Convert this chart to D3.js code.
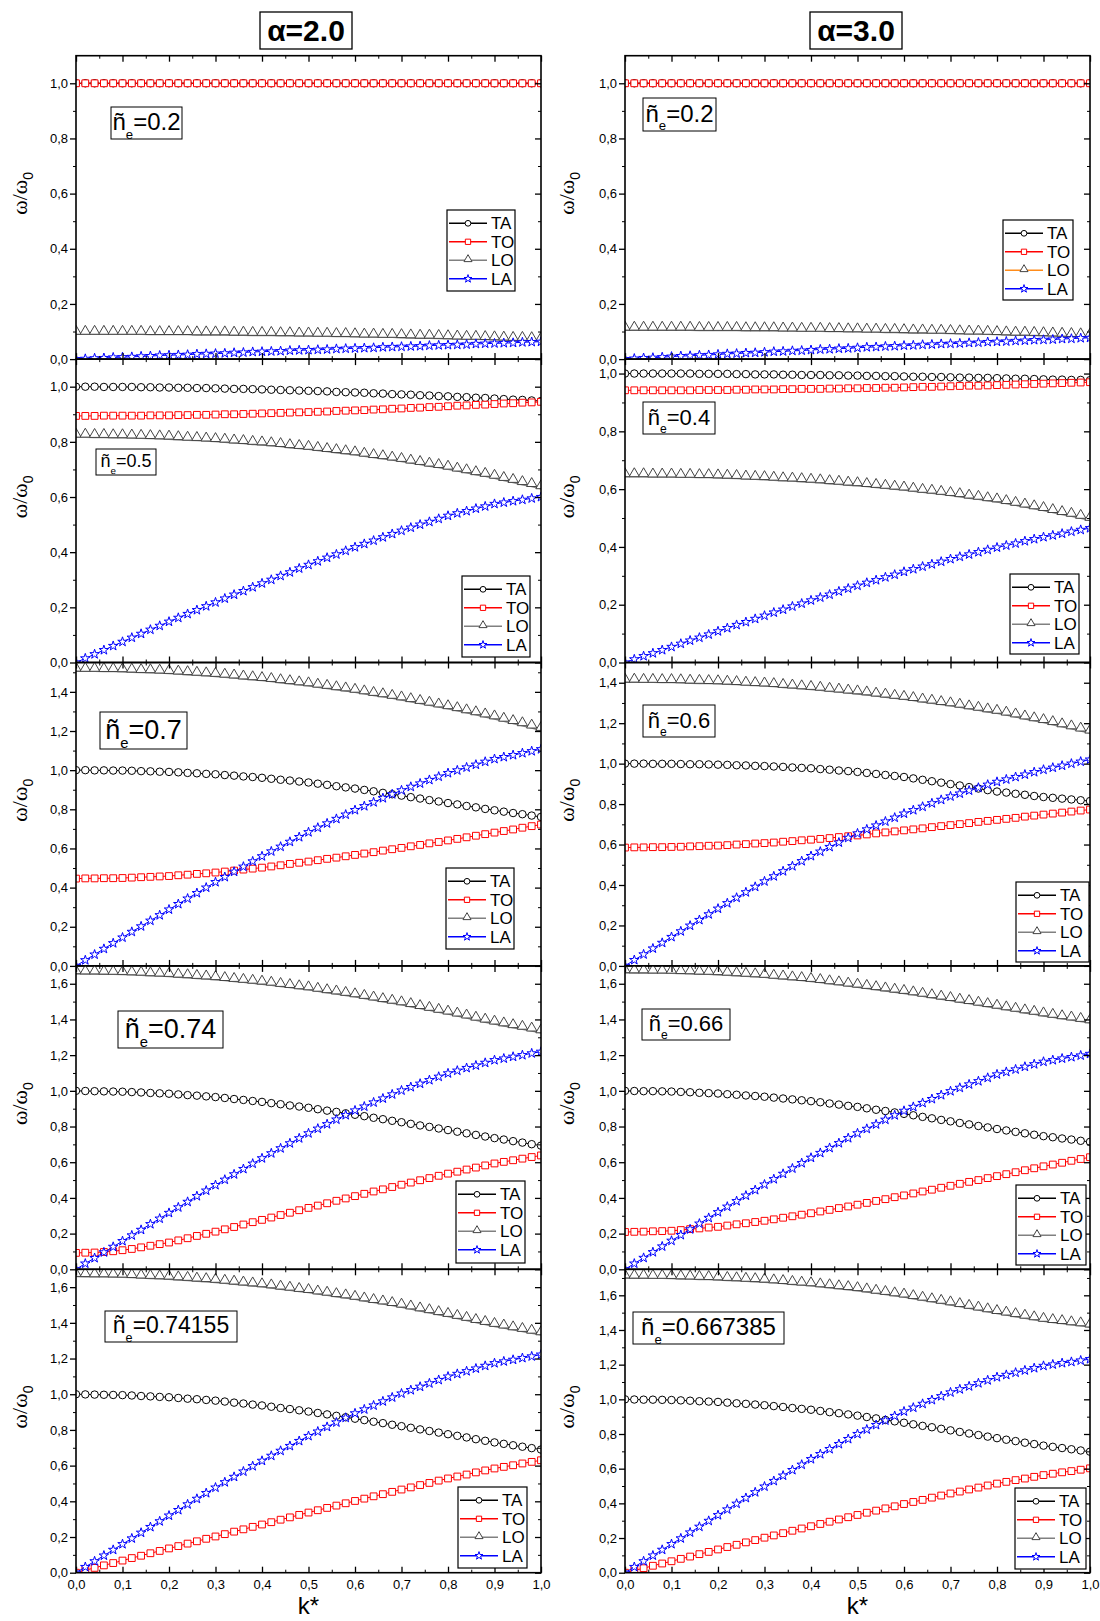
<!DOCTYPE html>
<html>
<head>
<meta charset="utf-8">
<script src="https://d3js.org/d3.v7.min.js"></script>
<style>
body { margin: 0; background: #fff; }
text { font-family: "Liberation Sans", Arial, sans-serif; fill: #000; }
</style>
</head>
<body>
<svg id="fig"></svg>
<script>
// k* sample points (same for every curve)
var kValues = [0,0.02,0.04,0.06,0.08,0.1,0.12,0.14,0.16,0.18,0.2,0.22,0.24,0.26,0.28,0.3,0.32,0.34,0.36,0.38,0.4,0.42,0.44,0.46,0.48,0.5,0.52,0.54,0.56,0.58,0.6,0.62,0.64,0.66,0.68,0.7,0.72,0.74,0.76,0.78,0.8,0.82,0.84,0.86,0.88,0.9,0.92,0.94,0.96,0.98,1];

var xTicks = [0,0.1,0.2,0.3,0.4,0.5,0.6,0.7,0.8,0.9,1.0];
var yTicks10 = [0,0.2,0.4,0.6,0.8,1.0];
var yTicks14 = [0,0.2,0.4,0.6,0.8,1.0,1.2,1.4];
var yTicks16 = [0,0.2,0.4,0.6,0.8,1.0,1.2,1.4,1.6];

// ---- alpha = 2.0 ----
// ne = 0.2
var ta_a2_r1 = [1,1,1,1,1,1,1,1,1,1,1,1,1,1,1,1,1,1,1,1,1,1,1,1,1,1,1,1,1,1,1,1,1,1,1,1,1,1,1,1,1,1,1,1,1,1,1,1,1,1,1];
var to_a2_r1 = [1,1,1,1,1,1,1,1,1,1,1,1,1,1,1,1,1,1,1,1,1,1,1,1,1,1,1,1,1,1,1,1,1,1,1,1,1,1,1,1,1,1,1,1,1,1,1,1,1,1,1];
var lo_a2_r1 = [0.090,0.090,0.090,0.090,0.090, 0.090,0.090,0.090,0.089,0.089, 0.089,0.089,0.089,0.088,0.088, 0.088,0.088,0.087,0.087,0.086, 0.086,0.086,0.085,0.085,0.084, 0.084,0.083,0.083,0.082,0.082, 0.081,0.080,0.080,0.079,0.079, 0.078,0.077,0.076,0.076,0.075, 0.074,0.073,0.072,0.072,0.071, 0.070,0.069,0.068,0.068,0.067, 0.066];
var la_a2_r1 = [0.000,0.001,0.003,0.004,0.006, 0.007,0.008,0.010,0.011,0.013, 0.014,0.015,0.016,0.018,0.019, 0.020,0.021,0.023,0.024,0.026, 0.027,0.028,0.029,0.031,0.032, 0.033,0.034,0.035,0.037,0.038, 0.039,0.040,0.041,0.043,0.044, 0.045,0.046,0.047,0.049,0.050, 0.051,0.052,0.053,0.055,0.056, 0.057,0.058,0.059,0.061,0.062, 0.063];
// ne = 0.5
var ta_a2_r2 = [1.000,1.000,1.000,0.999,0.999, 0.999,0.999,0.998,0.998,0.997, 0.997,0.996,0.996,0.995,0.995, 0.994,0.993,0.992,0.992,0.991, 0.990,0.989,0.988,0.987,0.986, 0.985,0.984,0.983,0.981,0.980, 0.979,0.978,0.976,0.975,0.973, 0.972,0.971,0.969,0.968,0.966, 0.965,0.963,0.962,0.960,0.959, 0.957,0.955,0.953,0.952,0.950, 0.948];
var to_a2_r2 = [0.894,0.894,0.894,0.895,0.895, 0.895,0.895,0.895,0.896,0.896, 0.896,0.897,0.897,0.898,0.898, 0.899,0.900,0.900,0.901,0.902, 0.903,0.904,0.905,0.906,0.907, 0.908,0.909,0.910,0.912,0.913, 0.914,0.915,0.917,0.918,0.920, 0.921,0.923,0.924,0.926,0.927, 0.929,0.931,0.932,0.934,0.935, 0.937,0.939,0.940,0.942,0.943, 0.945];
var lo_a2_r2 = [0.817,0.817,0.816,0.816,0.815, 0.815,0.814,0.813,0.812,0.811, 0.810,0.808,0.806,0.805,0.803, 0.801,0.799,0.796,0.794,0.791, 0.789,0.786,0.783,0.779,0.776, 0.773,0.769,0.765,0.761,0.757, 0.753,0.748,0.743,0.739,0.734, 0.729,0.723,0.718,0.712,0.707, 0.701,0.694,0.688,0.681,0.675, 0.668,0.660,0.653,0.645,0.638, 0.630];
var la_a2_r2 = [0.000,0.015,0.030,0.045,0.060, 0.075,0.090,0.104,0.119,0.133, 0.148,0.162,0.176,0.190,0.204, 0.218,0.232,0.246,0.259,0.273, 0.287,0.300,0.314,0.327,0.341, 0.354,0.367,0.380,0.392,0.405, 0.418,0.430,0.442,0.454,0.466, 0.478,0.489,0.500,0.510,0.521, 0.532,0.541,0.549,0.558,0.566, 0.575,0.580,0.585,0.590,0.595, 0.600];
// ne = 0.7
var ta_a2_r3 = [1.000,1.000,0.999,0.999,0.998, 0.998,0.997,0.995,0.994,0.992, 0.991,0.989,0.986,0.984,0.981, 0.979,0.975,0.972,0.968,0.965, 0.961,0.956,0.951,0.947,0.942, 0.937,0.931,0.925,0.918,0.912, 0.906,0.899,0.892,0.884,0.877, 0.870,0.862,0.855,0.847,0.840, 0.832,0.825,0.817,0.810,0.802, 0.795,0.788,0.781,0.775,0.768, 0.761];
var to_a2_r3 = [0.446,0.447,0.447,0.448,0.448, 0.449,0.451,0.453,0.455,0.457, 0.459,0.463,0.466,0.470,0.473, 0.477,0.482,0.487,0.492,0.497, 0.502,0.508,0.514,0.521,0.527, 0.533,0.540,0.547,0.553,0.560, 0.567,0.574,0.581,0.589,0.596, 0.603,0.611,0.618,0.626,0.633, 0.641,0.649,0.657,0.665,0.673, 0.681,0.689,0.697,0.706,0.714, 0.722];
var lo_a2_r3 = [1.506,1.505,1.505,1.504,1.504, 1.503,1.501,1.499,1.498,1.496, 1.494,1.491,1.488,1.485,1.482, 1.479,1.475,1.471,1.466,1.462, 1.458,1.453,1.447,1.442,1.436, 1.431,1.424,1.418,1.411,1.405, 1.398,1.390,1.382,1.375,1.367, 1.359,1.350,1.341,1.332,1.323, 1.314,1.304,1.293,1.283,1.272, 1.262,1.250,1.238,1.227,1.215, 1.203];
var la_a2_r3 = [0.000,0.029,0.058,0.087,0.116, 0.145,0.174,0.202,0.231,0.259, 0.288,0.316,0.344,0.372,0.400, 0.428,0.454,0.481,0.507,0.534, 0.560,0.585,0.609,0.634,0.658, 0.683,0.706,0.728,0.751,0.773, 0.796,0.816,0.836,0.857,0.877, 0.897,0.915,0.932,0.950,0.967, 0.985,0.999,1.014,1.028,1.043, 1.057,1.067,1.077,1.087,1.097, 1.107];
// ne = 0.74
var ta_a2_r4 = [1.000,0.999,0.998,0.997,0.996, 0.995,0.993,0.991,0.988,0.986, 0.984,0.980,0.976,0.973,0.969, 0.965,0.960,0.954,0.949,0.943, 0.938,0.931,0.925,0.918,0.912, 0.905,0.897,0.889,0.882,0.874, 0.866,0.858,0.849,0.841,0.832, 0.824,0.815,0.806,0.798,0.789, 0.780,0.771,0.762,0.753,0.744, 0.735,0.727,0.718,0.710,0.701, 0.693];
var to_a2_r4 = [0.092,0.093,0.094,0.097,0.101, 0.107,0.114,0.123,0.132,0.141, 0.150,0.162,0.174,0.187,0.199, 0.211,0.224,0.237,0.251,0.264, 0.277,0.290,0.304,0.317,0.331, 0.344,0.357,0.370,0.384,0.397, 0.410,0.423,0.436,0.448,0.461, 0.474,0.486,0.499,0.511,0.524, 0.536,0.547,0.559,0.570,0.582, 0.593,0.602,0.611,0.620,0.629, 0.638];
var lo_a2_r4 = [1.656,1.655,1.655,1.654,1.653, 1.652,1.650,1.648,1.645,1.643, 1.641,1.637,1.634,1.630,1.627, 1.623,1.618,1.613,1.608,1.603, 1.598,1.592,1.585,1.579,1.572, 1.566,1.558,1.550,1.543,1.535, 1.527,1.518,1.509,1.500,1.491, 1.482,1.472,1.461,1.451,1.440, 1.430,1.419,1.408,1.396,1.385, 1.374,1.364,1.354,1.345,1.335, 1.325];
var la_a2_r4 = [0.000,0.032,0.063,0.095,0.126, 0.158,0.190,0.221,0.253,0.284, 0.316,0.347,0.378,0.410,0.441, 0.472,0.502,0.532,0.562,0.592, 0.622,0.650,0.678,0.706,0.734, 0.762,0.788,0.813,0.839,0.864, 0.890,0.912,0.935,0.957,0.980, 1.002,1.021,1.040,1.060,1.079, 1.098,1.113,1.128,1.142,1.157, 1.172,1.181,1.191,1.200,1.210, 1.219];
// ne = 0.74155
var ta_a2_r5 = [1.000,0.999,0.998,0.997,0.996, 0.995,0.993,0.990,0.988,0.985, 0.983,0.979,0.975,0.972,0.968, 0.964,0.959,0.953,0.948,0.942, 0.937,0.930,0.923,0.917,0.910, 0.903,0.895,0.887,0.879,0.871, 0.863,0.855,0.846,0.838,0.829, 0.821,0.812,0.803,0.794,0.785, 0.776,0.767,0.758,0.748,0.739, 0.730,0.722,0.714,0.706,0.698, 0.690];
var to_a2_r5 = [0.000,0.014,0.027,0.041,0.054, 0.068,0.082,0.095,0.109,0.122, 0.136,0.149,0.163,0.176,0.190, 0.203,0.216,0.230,0.243,0.257, 0.270,0.283,0.297,0.310,0.324, 0.337,0.350,0.363,0.376,0.389, 0.402,0.415,0.428,0.440,0.453, 0.466,0.478,0.491,0.503,0.516, 0.528,0.539,0.550,0.562,0.573, 0.584,0.593,0.602,0.612,0.621, 0.630];
var lo_a2_r5 = [1.660,1.659,1.658,1.658,1.657, 1.656,1.654,1.651,1.649,1.647, 1.645,1.641,1.638,1.634,1.631, 1.627,1.622,1.617,1.612,1.607, 1.602,1.596,1.589,1.583,1.576, 1.570,1.562,1.555,1.547,1.540, 1.532,1.523,1.514,1.506,1.497, 1.488,1.478,1.467,1.457,1.446, 1.436,1.425,1.414,1.402,1.391, 1.380,1.371,1.361,1.352,1.342, 1.333];
var la_a2_r5 = [0.000,0.032,0.064,0.096,0.128, 0.160,0.192,0.224,0.256,0.288, 0.320,0.351,0.383,0.414,0.446, 0.477,0.507,0.537,0.567,0.597, 0.627,0.655,0.683,0.710,0.738, 0.766,0.791,0.817,0.842,0.868, 0.893,0.915,0.937,0.960,0.982, 1.004,1.023,1.042,1.061,1.080, 1.099,1.114,1.129,1.144,1.159, 1.174,1.184,1.193,1.203,1.212, 1.222];

// ---- alpha = 3.0 ----
// ne = 0.2
var ta_a3_r1 = [1,1,1,1,1,1,1,1,1,1,1,1,1,1,1,1,1,1,1,1,1,1,1,1,1,1,1,1,1,1,1,1,1,1,1,1,1,1,1,1,1,1,1,1,1,1,1,1,1,1,1];
var to_a3_r1 = [1,1,1,1,1,1,1,1,1,1,1,1,1,1,1,1,1,1,1,1,1,1,1,1,1,1,1,1,1,1,1,1,1,1,1,1,1,1,1,1,1,1,1,1,1,1,1,1,1,1,1];
var lo_a3_r1 = [0.105,0.105,0.105,0.105,0.105, 0.105,0.105,0.105,0.104,0.104, 0.104,0.104,0.104,0.103,0.103, 0.103,0.103,0.102,0.102,0.101, 0.101,0.101,0.100,0.100,0.099, 0.099,0.098,0.098,0.097,0.097, 0.096,0.095,0.095,0.094,0.094, 0.093,0.092,0.091,0.091,0.090, 0.089,0.088,0.087,0.087,0.086, 0.085,0.084,0.083,0.082,0.081, 0.080];
var la_a3_r1 = [0.000,0.002,0.004,0.005,0.007, 0.009,0.011,0.012,0.014,0.015, 0.017,0.019,0.020,0.022,0.023, 0.025,0.027,0.028,0.030,0.031, 0.033,0.035,0.036,0.038,0.039, 0.041,0.043,0.044,0.046,0.047, 0.049,0.050,0.052,0.053,0.055, 0.056,0.057,0.059,0.060,0.062, 0.063,0.064,0.066,0.067,0.069, 0.070,0.071,0.073,0.074,0.076, 0.077];
// ne = 0.4
var ta_a3_r2 = [1.000,1.000,1.000,1.000,1.000, 1.000,1.000,1.000,0.999,0.999, 0.999,0.999,0.998,0.998,0.997, 0.997,0.997,0.996,0.996,0.995, 0.995,0.995,0.994,0.994,0.993, 0.993,0.992,0.992,0.991,0.991, 0.990,0.989,0.989,0.988,0.988, 0.987,0.986,0.986,0.985,0.985, 0.984,0.983,0.982,0.982,0.981, 0.980,0.979,0.979,0.978,0.978, 0.977];
var to_a3_r2 = [0.942,0.942,0.942,0.942,0.942, 0.942,0.942,0.942,0.943,0.943, 0.943,0.943,0.944,0.944,0.945, 0.945,0.945,0.946,0.946,0.947, 0.947,0.947,0.948,0.948,0.949, 0.949,0.950,0.950,0.951,0.951, 0.952,0.953,0.954,0.954,0.955, 0.956,0.957,0.958,0.958,0.959, 0.960,0.961,0.962,0.963,0.964, 0.965,0.966,0.967,0.968,0.969, 0.970];
var lo_a3_r2 = [0.643,0.643,0.643,0.642,0.642, 0.642,0.641,0.641,0.640,0.640, 0.639,0.638,0.637,0.635,0.634, 0.633,0.631,0.629,0.628,0.626, 0.624,0.622,0.619,0.617,0.614, 0.612,0.609,0.606,0.603,0.600, 0.597,0.593,0.589,0.586,0.582, 0.578,0.574,0.569,0.565,0.560, 0.556,0.550,0.544,0.538,0.532, 0.526,0.519,0.512,0.506,0.499, 0.492];
var la_a3_r2 = [0.000,0.011,0.022,0.032,0.043, 0.054,0.065,0.076,0.086,0.097, 0.108,0.119,0.130,0.140,0.151, 0.162,0.173,0.183,0.194,0.204, 0.215,0.225,0.235,0.246,0.256, 0.266,0.276,0.285,0.295,0.304, 0.314,0.323,0.332,0.340,0.349, 0.358,0.366,0.374,0.382,0.390, 0.398,0.405,0.412,0.420,0.427, 0.434,0.440,0.446,0.453,0.459, 0.465];
// ne = 0.6
var ta_a3_r3 = [1.000,1.000,1.000,0.999,0.999, 0.999,0.998,0.997,0.997,0.996, 0.995,0.994,0.992,0.991,0.989, 0.988,0.986,0.984,0.981,0.979, 0.977,0.973,0.970,0.966,0.963, 0.959,0.954,0.949,0.944,0.939, 0.934,0.927,0.920,0.913,0.906, 0.899,0.892,0.884,0.877,0.869, 0.862,0.857,0.851,0.846,0.840, 0.835,0.831,0.827,0.823,0.819, 0.815];
var to_a3_r3 = [0.585,0.586,0.586,0.587,0.587, 0.588,0.589,0.591,0.592,0.594, 0.595,0.597,0.600,0.602,0.605, 0.607,0.610,0.614,0.617,0.621, 0.624,0.628,0.632,0.637,0.641, 0.645,0.650,0.655,0.660,0.665, 0.670,0.675,0.680,0.686,0.691, 0.696,0.701,0.706,0.712,0.717, 0.722,0.727,0.732,0.738,0.743, 0.748,0.753,0.758,0.763,0.768, 0.773];
var lo_a3_r3 = [1.403,1.403,1.402,1.402,1.401, 1.401,1.400,1.398,1.397,1.396, 1.395,1.393,1.391,1.388,1.386, 1.384,1.381,1.377,1.374,1.370, 1.367,1.363,1.358,1.354,1.349, 1.345,1.340,1.334,1.329,1.323, 1.318,1.312,1.305,1.299,1.292, 1.286,1.279,1.271,1.264,1.256, 1.249,1.240,1.231,1.221,1.212, 1.203,1.193,1.182,1.172,1.161, 1.151];
var la_a3_r3 = [0.000,0.029,0.057,0.086,0.114, 0.143,0.171,0.199,0.227,0.255, 0.283,0.310,0.337,0.364,0.391, 0.418,0.443,0.468,0.493,0.518, 0.543,0.565,0.588,0.610,0.633, 0.655,0.675,0.694,0.714,0.733, 0.753,0.770,0.787,0.804,0.821, 0.838,0.852,0.867,0.881,0.896, 0.910,0.922,0.934,0.946,0.958, 0.970,0.980,0.990,1.000,1.010, 1.020];
// ne = 0.66
var ta_a3_r4 = [1.000,0.999,0.998,0.998,0.997, 0.996,0.994,0.992,0.989,0.987, 0.985,0.981,0.978,0.974,0.971, 0.967,0.962,0.957,0.952,0.947, 0.942,0.936,0.929,0.923,0.916, 0.910,0.902,0.894,0.887,0.879, 0.871,0.863,0.854,0.846,0.837, 0.829,0.820,0.812,0.803,0.795, 0.786,0.778,0.770,0.762,0.754, 0.746,0.740,0.733,0.727,0.720, 0.714];
var to_a3_r4 = [0.209,0.210,0.211,0.213,0.214, 0.216,0.220,0.225,0.229,0.234, 0.238,0.245,0.252,0.258,0.265, 0.272,0.280,0.289,0.297,0.306, 0.314,0.324,0.333,0.343,0.352, 0.362,0.372,0.383,0.393,0.404, 0.414,0.425,0.436,0.446,0.457, 0.468,0.479,0.490,0.500,0.511, 0.522,0.533,0.544,0.555,0.566, 0.577,0.587,0.597,0.608,0.618, 0.628];
var lo_a3_r4 = [1.662,1.661,1.661,1.660,1.660, 1.659,1.657,1.656,1.654,1.653, 1.651,1.648,1.645,1.642,1.639, 1.636,1.631,1.627,1.622,1.618, 1.613,1.607,1.600,1.594,1.587, 1.581,1.574,1.567,1.560,1.553, 1.546,1.538,1.530,1.522,1.514, 1.506,1.497,1.489,1.480,1.472, 1.463,1.454,1.446,1.437,1.429, 1.420,1.412,1.404,1.397,1.389, 1.381];
var la_a3_r4 = [0.000,0.032,0.064,0.096,0.128, 0.160,0.192,0.224,0.256,0.288, 0.320,0.351,0.382,0.413,0.444, 0.475,0.505,0.535,0.565,0.595, 0.625,0.652,0.680,0.707,0.735, 0.762,0.787,0.812,0.838,0.863, 0.888,0.910,0.932,0.954,0.976, 0.998,1.017,1.036,1.054,1.073, 1.092,1.106,1.120,1.135,1.149, 1.163,1.172,1.181,1.189,1.198, 1.207];
// ne = 0.667385
var ta_a3_r5 = [1.000,0.999,0.998,0.998,0.997, 0.996,0.994,0.992,0.989,0.987, 0.985,0.981,0.977,0.974,0.970, 0.966,0.961,0.956,0.950,0.945, 0.940,0.933,0.926,0.920,0.913, 0.906,0.898,0.890,0.881,0.873, 0.865,0.856,0.847,0.839,0.830, 0.821,0.812,0.803,0.794,0.785, 0.776,0.767,0.759,0.750,0.742, 0.733,0.726,0.719,0.712,0.705, 0.698];
var to_a3_r5 = [0.000,0.013,0.026,0.040,0.053, 0.066,0.080,0.093,0.107,0.120, 0.134,0.148,0.161,0.175,0.188, 0.202,0.215,0.228,0.242,0.255, 0.268,0.281,0.294,0.307,0.320, 0.333,0.346,0.358,0.371,0.383, 0.396,0.408,0.420,0.433,0.445, 0.457,0.468,0.480,0.491,0.503, 0.514,0.524,0.534,0.543,0.553, 0.563,0.571,0.579,0.586,0.594, 0.602];
var lo_a3_r5 = [1.700,1.699,1.699,1.698,1.698, 1.697,1.695,1.694,1.692,1.691, 1.689,1.686,1.684,1.681,1.679, 1.676,1.672,1.668,1.663,1.659, 1.655,1.649,1.644,1.638,1.633, 1.627,1.620,1.612,1.605,1.597, 1.590,1.581,1.572,1.563,1.554, 1.545,1.535,1.525,1.515,1.505, 1.495,1.486,1.477,1.468,1.459, 1.450,1.443,1.437,1.430,1.424, 1.417];
var la_a3_r5 = [0.000,0.033,0.066,0.099,0.132, 0.165,0.198,0.232,0.265,0.299, 0.332,0.365,0.398,0.431,0.464, 0.497,0.529,0.560,0.592,0.623, 0.655,0.684,0.713,0.742,0.771, 0.800,0.826,0.852,0.878,0.904, 0.930,0.952,0.974,0.996,1.018, 1.040,1.058,1.075,1.093,1.110, 1.128,1.141,1.154,1.167,1.180, 1.193,1.201,1.209,1.216,1.224, 1.232];

// panel layout
var colX = [76, 625], pw = 465;
var rowY = [55.7, 359.1, 662.5, 965.9, 1269.3], ph = 303.4;

var panels = [
  {col:0,row:0,ymax:1.1, ticks:yTicks10, ne:"0.2", TA:ta_a2_r1,TO:to_a2_r1,LO:lo_a2_r1,LA:la_a2_r1, note:[111,107,71,32,24], leg:[447,210,68,81], loColor:"#808080"},
  {col:1,row:0,ymax:1.1, ticks:yTicks10, ne:"0.2", TA:ta_a3_r1,TO:to_a3_r1,LO:lo_a3_r1,LA:la_a3_r1, note:[643,98,73,33,24], leg:[1003,220,70,80], loColor:"#ff8c1a"},
  {col:0,row:1,ymax:1.1, ticks:yTicks10, ne:"0.5", TA:ta_a2_r2,TO:to_a2_r2,LO:lo_a2_r2,LA:la_a2_r2, note:[96,449,60,26,18], leg:[462,576,68,81], loColor:"#808080"},
  {col:1,row:1,ymax:1.05, ticks:yTicks10, ne:"0.4", TA:ta_a3_r2,TO:to_a3_r2,LO:lo_a3_r2,LA:la_a3_r2, note:[643,402,72,32,22], leg:[1010,574,69,80], loColor:"#808080"},
  {col:0,row:2,ymax:1.55, ticks:yTicks14, ne:"0.7", TA:ta_a2_r3,TO:to_a2_r3,LO:lo_a2_r3,LA:la_a2_r3, note:[100,712,87,37,27], leg:[446,868,68,81], loColor:"#808080"},
  {col:1,row:2,ymax:1.5, ticks:yTicks14, ne:"0.6", TA:ta_a3_r3,TO:to_a3_r3,LO:lo_a3_r3,LA:la_a3_r3, note:[643,705,72,32,22], leg:[1016,882,73,80], loColor:"#808080"},
  {col:0,row:3,ymax:1.7, ticks:yTicks16, ne:"0.74", TA:ta_a2_r4,TO:to_a2_r4,LO:lo_a2_r4,LA:la_a2_r4, note:[118,1011,105,37,27], leg:[456,1181,69,82], loColor:"#808080"},
  {col:1,row:3,ymax:1.7, ticks:yTicks16, ne:"0.66", TA:ta_a3_r4,TO:to_a3_r4,LO:lo_a3_r4,LA:la_a3_r4, note:[642,1009,88,31,22], leg:[1016,1185,70,80], loColor:"#808080"},
  {col:0,row:4,ymax:1.7, ticks:yTicks16, ne:"0.74155", TA:ta_a2_r5,TO:to_a2_r5,LO:lo_a2_r5,LA:la_a2_r5, note:[105,1311,132,31,23], leg:[458,1487,69,81], loColor:"#808080"},
  {col:1,row:4,ymax:1.75, ticks:yTicks16, ne:"0.667385", TA:ta_a3_r5,TO:to_a3_r5,LO:lo_a3_r5,LA:la_a3_r5, note:[633,1312,151,32,24], leg:[1015,1488,71,81], loColor:"#808080"}
];

var series = [
  {key:"TA", color:"#000", line:"#000", lw:1, sym:d3.symbolCircle, size:44, lsize:26, dy:0},
  {key:"TO", color:"#ff0000", line:"#ff0000", lw:1, sym:d3.symbolSquare, size:46, lsize:28, dy:0},
  {key:"LO", color:"#444", line:"#888", lw:1.6, sym:d3.symbolTriangle, size:46, lsize:28, dy:-3},
  {key:"LA", color:"#0000ff", line:"#0000ff", lw:1, sym:d3.symbolStar, size:28, lsize:20, dy:0}
];

var fmt = function(d){ return d3.format(".1f")(d).replace(".", ","); };

var svg = d3.select("#fig").attr("width", 1100).attr("height", 1621);
var defs = svg.append("defs");

panels.forEach(function(p, pi){
  var x0 = colX[p.col], y0 = rowY[p.row];
  var x = d3.scaleLinear().domain([0, 1]).range([x0, x0 + pw]);
  var y = d3.scaleLinear().domain([0, p.ymax]).range([y0 + ph, y0]);

  defs.append("clipPath").attr("id", "clip" + pi)
    .append("rect").attr("x", x0).attr("y", y0).attr("width", pw).attr("height", ph);

  var plot = svg.append("g").attr("clip-path", "url(#clip" + pi + ")");

  series.forEach(function(s){
    var vals = p[s.key];
    var pts = kValues.map(function(k, i){ return [x(k), y(vals[i])]; });
    plot.append("path")
      .attr("d", d3.line().defined(function(d){ return !isNaN(d[1]); })(pts))
      .attr("fill", "none")
      .attr("stroke", s.line)
      .attr("stroke-width", s.lw);
    plot.selectAll(null).data(pts).enter().append("path")
      .attr("d", d3.symbol(s.sym, s.size)())
      .attr("transform", function(d){ return "translate(" + d[0] + "," + (d[1] + s.dy) + ")"; })
      .attr("fill", "#fff")
      .attr("stroke", s.color)
      .attr("stroke-width", 1);
  });

  // axes: ticks only, frame drawn separately
  var minorY = p.ticks.map(function(t){ return t + 0.1; }).filter(function(t){ return t < p.ymax; });
  var minorX = xTicks.slice(0, -1).map(function(t){ return t + 0.05; });

  svg.append("g").attr("transform", "translate(" + x0 + ",0)")
    .call(d3.axisLeft(y).tickValues(p.ticks).tickSize(6).tickFormat(fmt))
    .call(function(g){
      g.select(".domain").remove();
      g.selectAll("text").attr("font-size", 13).attr("font-family", "Liberation Sans, Arial").attr("fill", "#000").attr("x", -8);
      g.selectAll("line").attr("stroke-width", 1.3);
    });
  svg.append("g").attr("transform", "translate(" + x0 + ",0)")
    .call(d3.axisLeft(y).tickValues(minorY).tickSize(3).tickFormat(""))
    .call(function(g){ g.select(".domain").remove(); });
  svg.append("g").attr("transform", "translate(" + (x0 + pw) + ",0)")
    .call(d3.axisLeft(y).tickValues(p.ticks).tickSize(6).tickFormat(""))
    .call(function(g){ g.select(".domain").remove(); g.selectAll("line").attr("stroke-width", 1.3); });
  svg.append("g").attr("transform", "translate(" + (x0 + pw) + ",0)")
    .call(d3.axisLeft(y).tickValues(minorY).tickSize(3).tickFormat(""))
    .call(function(g){ g.select(".domain").remove(); });
  // top and bottom, ticks pointing inward
  svg.append("g").attr("transform", "translate(0," + y0 + ")")
    .call(d3.axisBottom(x).tickValues(xTicks).tickSize(6).tickFormat(""))
    .call(function(g){ g.select(".domain").remove(); g.selectAll("line").attr("stroke-width", 1.3); });
  svg.append("g").attr("transform", "translate(0," + y0 + ")")
    .call(d3.axisBottom(x).tickValues(minorX).tickSize(3).tickFormat(""))
    .call(function(g){ g.select(".domain").remove(); });
  svg.append("g").attr("transform", "translate(0," + (y0 + ph) + ")")
    .call(d3.axisTop(x).tickValues(xTicks).tickSize(6).tickFormat(""))
    .call(function(g){ g.select(".domain").remove(); g.selectAll("line").attr("stroke-width", 1.3); });
  svg.append("g").attr("transform", "translate(0," + (y0 + ph) + ")")
    .call(d3.axisTop(x).tickValues(minorX).tickSize(3).tickFormat(""))
    .call(function(g){ g.select(".domain").remove(); });

  if (p.row === 4) {
    svg.append("g").attr("transform", "translate(0," + (y0 + ph) + ")")
      .call(d3.axisBottom(x).tickValues(xTicks).tickSize(0).tickPadding(7).tickFormat(fmt))
      .call(function(g){
        g.select(".domain").remove();
        g.selectAll("text").attr("font-size", 13).attr("font-family", "Liberation Sans, Arial").attr("fill", "#000");
      });
    svg.append("text").attr("x", x(0.5)).attr("y", 1614)
      .attr("text-anchor", "middle").attr("font-size", 24).text("k*");
  }

  // frame
  svg.append("rect").attr("x", x0).attr("y", y0).attr("width", pw).attr("height", ph)
    .attr("fill", "none").attr("stroke", "#000").attr("stroke-width", 1.6);

  // y label
  var ly = y0 + ph / 2 - 14, lx = p.col === 0 ? 27 : 574;
  var yl = svg.append("text")
    .attr("transform", "translate(" + lx + "," + ly + ") rotate(-90)")
    .attr("text-anchor", "middle")
    .attr("font-size", 22)
    .style("font-family", "Liberation Serif, serif");
  yl.append("tspan").text("\u03c9/\u03c9");
  yl.append("tspan").attr("font-size", 14).attr("dy", 6).style("font-family", "Liberation Sans, Arial").text("0");

  // n_e annotation
  var n = p.note;
  svg.append("rect").attr("x", n[0]).attr("y", n[1]).attr("width", n[2]).attr("height", n[3])
    .attr("fill", "#fff").attr("stroke", "#000").attr("stroke-width", 1);
  var nt = svg.append("text").attr("x", n[0] + n[2] / 2).attr("y", n[1] + n[3] / 2 + n[4] * 0.3)
    .attr("text-anchor", "middle")
    .attr("font-size", n[4]);
  nt.append("tspan").text("\u00f1");
  nt.append("tspan").attr("font-size", n[4] * 0.55).attr("dy", n[4] * 0.36).text("e");
  nt.append("tspan").attr("dy", -n[4] * 0.36).text("=" + p.ne);

  // legend
  var L = p.leg;
  svg.append("rect").attr("x", L[0]).attr("y", L[1]).attr("width", L[2]).attr("height", L[3])
    .attr("fill", "#fff").attr("stroke", "#000").attr("stroke-width", 1.2);
  series.forEach(function(s, i){
    var cy = L[1] + 13.3 + i * 18.5;
    var lc = s.key === "LO" ? p.loColor : s.line;
    svg.append("line").attr("x1", L[0] + 2).attr("x2", L[0] + 40).attr("y1", cy).attr("y2", cy)
      .attr("stroke", lc).attr("stroke-width", 1.5);
    svg.append("path").attr("d", d3.symbol(s.sym, s.lsize)())
      .attr("transform", "translate(" + (L[0] + 21) + "," + (cy + (s.key === "LO" ? -1 : 0)) + ")")
      .attr("fill", "#fff").attr("stroke", s.color).attr("stroke-width", 1);
    svg.append("text").attr("x", L[0] + 44).attr("y", cy + 6).attr("font-size", 17).text(s.key);
  });
});

// column titles
[["\u03b1=2.0", 260, 92], ["\u03b1=3.0", 810, 92]].forEach(function(t){
  svg.append("rect").attr("x", t[1]).attr("y", 12).attr("width", t[2]).attr("height", 37)
    .attr("fill", "#fff").attr("stroke", "#000").attr("stroke-width", 1.3);
  svg.append("text").attr("x", t[1] + t[2] / 2).attr("y", 41).attr("text-anchor", "middle")
    .attr("font-size", 30).attr("font-weight", "bold").text(t[0]);
});
</script>
</body>
</html>
